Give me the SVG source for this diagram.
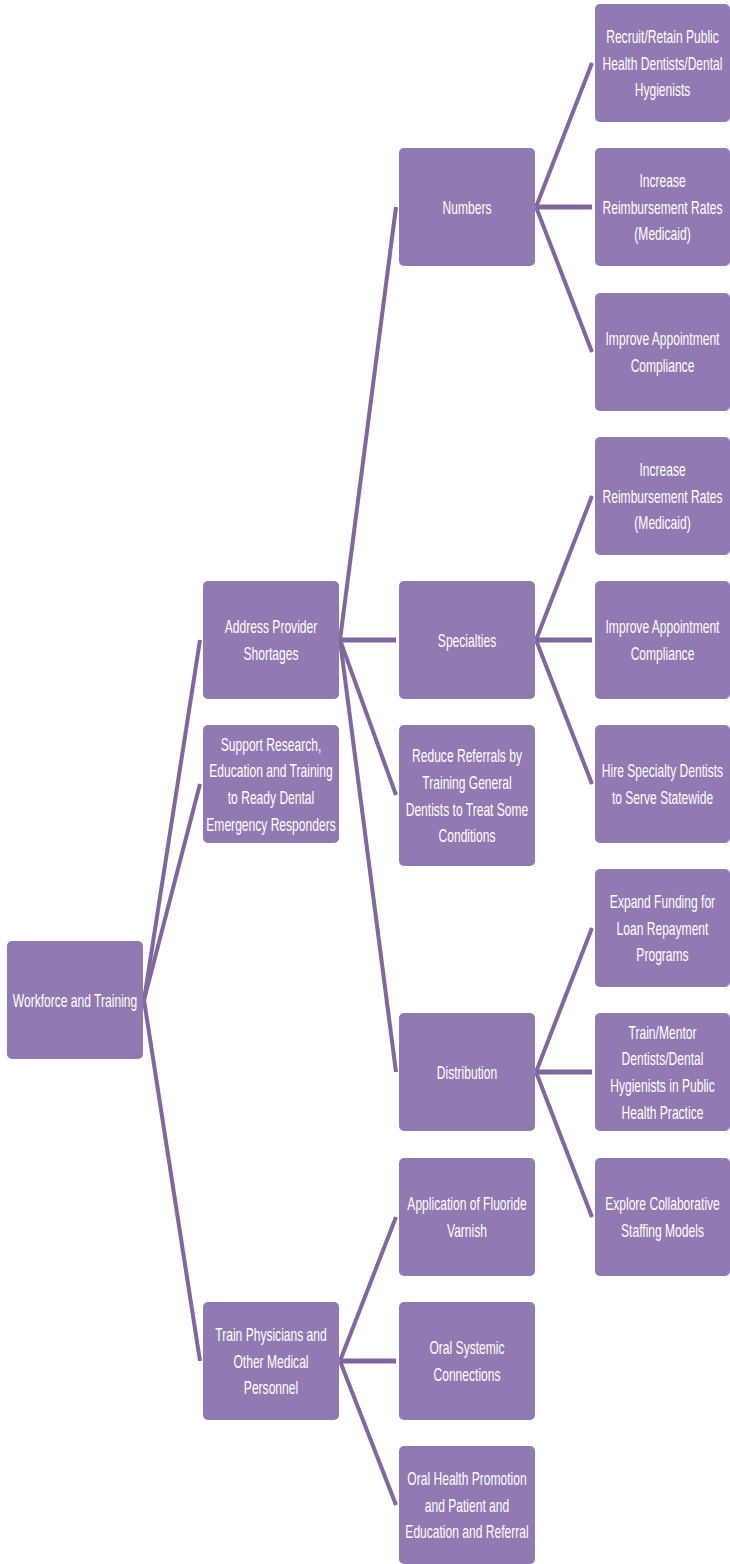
<svg xmlns="http://www.w3.org/2000/svg" width="730" height="1564" viewBox="0 0 730 1564">
  <style>
    .box { fill: #907ab1; }
    .lbl { font-family: "Liberation Sans", Arial, sans-serif; font-size: 19px; fill: #ffffff; text-anchor: middle; }
    .link { stroke: #7f679f; stroke-width: 4; fill: none; stroke-linecap: butt; }
    .flat { stroke-width: 5; }
  </style>
  <rect width="730" height="1564" fill="#ffffff"/>

  <!-- connectors -->
  <g id="connectors" class="link">
    <line x1="144" y1="1000" x2="200" y2="640"/>
    <line x1="144" y1="1000" x2="200" y2="784"/>
    <line x1="144" y1="1000" x2="200" y2="1361"/>

    <line x1="340" y1="640" x2="396" y2="207"/>
    <line class="flat" x1="340" y1="640" x2="396" y2="640"/>
    <line x1="340" y1="640" x2="396" y2="795"/>
    <line x1="340" y1="640" x2="396" y2="1072"/>

    <line x1="536" y1="207" x2="592" y2="63"/>
    <line class="flat" x1="536" y1="207" x2="592" y2="207"/>
    <line x1="536" y1="207" x2="592" y2="352"/>

    <line x1="536" y1="640" x2="592" y2="496"/>
    <line class="flat" x1="536" y1="640" x2="592" y2="640"/>
    <line x1="536" y1="640" x2="592" y2="784"/>

    <line x1="536" y1="1072" x2="592" y2="928"/>
    <line class="flat" x1="536" y1="1072" x2="592" y2="1072"/>
    <line x1="536" y1="1072" x2="592" y2="1217"/>

    <line x1="340" y1="1361" x2="396" y2="1217"/>
    <line class="flat" x1="340" y1="1361" x2="396" y2="1361"/>
    <line x1="340" y1="1361" x2="396" y2="1505"/>
  </g>

  <!-- root -->
  <g id="workforce-training">
    <rect class="box" x="7" y="941" width="136" height="118" rx="5"/>
    <g transform="translate(75,0) scale(0.635,1)">
      <text class="lbl" x="0" y="1006.8">Workforce and Training</text>
    </g>
  </g>

  <!-- level 1 -->
  <g id="address-provider-shortages">
    <rect class="box" x="203" y="581" width="136" height="118" rx="5"/>
    <g transform="translate(271,0) scale(0.635,1)">
      <text class="lbl" x="0" y="633.5">Address Provider</text>
      <text class="lbl" x="0" y="660.2">Shortages</text>
    </g>
  </g>
  <g id="support-research">
    <rect class="box" x="203" y="725" width="136" height="118" rx="5"/>
    <g transform="translate(271,0) scale(0.635,1)">
      <text class="lbl" x="0" y="750.8">Support Research,</text>
      <text class="lbl" x="0" y="777.5">Education and Training</text>
      <text class="lbl" x="0" y="804.2">to Ready Dental</text>
      <text class="lbl" x="0" y="830.9">Emergency Responders</text>
    </g>
  </g>
  <g id="train-physicians">
    <rect class="box" x="203" y="1302" width="136" height="118" rx="5"/>
    <g transform="translate(271,0) scale(0.635,1)">
      <text class="lbl" x="0" y="1341.1">Train Physicians and</text>
      <text class="lbl" x="0" y="1367.8">Other Medical</text>
      <text class="lbl" x="0" y="1394.5">Personnel</text>
    </g>
  </g>

  <!-- level 2 -->
  <g id="numbers">
    <rect class="box" x="399" y="148" width="136" height="118" rx="5"/>
    <g transform="translate(467,0) scale(0.635,1)">
      <text class="lbl" x="0" y="213.8">Numbers</text>
    </g>
  </g>
  <g id="specialties">
    <rect class="box" x="399" y="581" width="136" height="118" rx="5"/>
    <g transform="translate(467,0) scale(0.635,1)">
      <text class="lbl" x="0" y="646.8">Specialties</text>
    </g>
  </g>
  <g id="reduce-referrals">
    <rect class="box" x="399" y="725" width="136" height="141" rx="5"/>
    <g transform="translate(467,0) scale(0.635,1)">
      <text class="lbl" x="0" y="762.3">Reduce Referrals by</text>
      <text class="lbl" x="0" y="789">Training General</text>
      <text class="lbl" x="0" y="815.7">Dentists to Treat Some</text>
      <text class="lbl" x="0" y="842.4">Conditions</text>
    </g>
  </g>
  <g id="distribution">
    <rect class="box" x="399" y="1013" width="136" height="118" rx="5"/>
    <g transform="translate(467,0) scale(0.635,1)">
      <text class="lbl" x="0" y="1078.8">Distribution</text>
    </g>
  </g>
  <g id="fluoride-varnish">
    <rect class="box" x="399" y="1158" width="136" height="118" rx="5"/>
    <g transform="translate(467,0) scale(0.635,1)">
      <text class="lbl" x="0" y="1210.5">Application of Fluoride</text>
      <text class="lbl" x="0" y="1237.2">Varnish</text>
    </g>
  </g>
  <g id="oral-systemic">
    <rect class="box" x="399" y="1302" width="136" height="118" rx="5"/>
    <g transform="translate(467,0) scale(0.635,1)">
      <text class="lbl" x="0" y="1354.5">Oral Systemic</text>
      <text class="lbl" x="0" y="1381.2">Connections</text>
    </g>
  </g>
  <g id="oral-health-promotion">
    <rect class="box" x="399" y="1446" width="136" height="118" rx="5"/>
    <g transform="translate(467,0) scale(0.635,1)">
      <text class="lbl" x="0" y="1485.1">Oral Health Promotion</text>
      <text class="lbl" x="0" y="1511.8">and Patient and</text>
      <text class="lbl" x="0" y="1538.5">Education and Referral</text>
    </g>
  </g>

  <!-- level 3 -->
  <g id="recruit-retain">
    <rect class="box" x="595" y="4" width="135" height="118" rx="5"/>
    <g transform="translate(662.5,0) scale(0.635,1)">
      <text class="lbl" x="0" y="43.1">Recruit/Retain Public</text>
      <text class="lbl" x="0" y="69.8">Health Dentists/Dental</text>
      <text class="lbl" x="0" y="96.5">Hygienists</text>
    </g>
  </g>
  <g id="increase-rates-1">
    <rect class="box" x="595" y="148" width="135" height="118" rx="5"/>
    <g transform="translate(662.5,0) scale(0.635,1)">
      <text class="lbl" x="0" y="187.1">Increase</text>
      <text class="lbl" x="0" y="213.8">Reimbursement Rates</text>
      <text class="lbl" x="0" y="240.5">(Medicaid)</text>
    </g>
  </g>
  <g id="improve-compliance-1">
    <rect class="box" x="595" y="293" width="135" height="118" rx="5"/>
    <g transform="translate(662.5,0) scale(0.635,1)">
      <text class="lbl" x="0" y="345.5">Improve Appointment</text>
      <text class="lbl" x="0" y="372.2">Compliance</text>
    </g>
  </g>
  <g id="increase-rates-2">
    <rect class="box" x="595" y="437" width="135" height="118" rx="5"/>
    <g transform="translate(662.5,0) scale(0.635,1)">
      <text class="lbl" x="0" y="476.1">Increase</text>
      <text class="lbl" x="0" y="502.8">Reimbursement Rates</text>
      <text class="lbl" x="0" y="529.5">(Medicaid)</text>
    </g>
  </g>
  <g id="improve-compliance-2">
    <rect class="box" x="595" y="581" width="135" height="118" rx="5"/>
    <g transform="translate(662.5,0) scale(0.635,1)">
      <text class="lbl" x="0" y="633.5">Improve Appointment</text>
      <text class="lbl" x="0" y="660.2">Compliance</text>
    </g>
  </g>
  <g id="hire-specialty">
    <rect class="box" x="595" y="725" width="135" height="118" rx="5"/>
    <g transform="translate(662.5,0) scale(0.635,1)">
      <text class="lbl" x="0" y="777.5">Hire Specialty Dentists</text>
      <text class="lbl" x="0" y="804.2">to Serve Statewide</text>
    </g>
  </g>
  <g id="expand-funding">
    <rect class="box" x="595" y="869" width="135" height="118" rx="5"/>
    <g transform="translate(662.5,0) scale(0.635,1)">
      <text class="lbl" x="0" y="908.1">Expand Funding for</text>
      <text class="lbl" x="0" y="934.8">Loan Repayment</text>
      <text class="lbl" x="0" y="961.5">Programs</text>
    </g>
  </g>
  <g id="train-mentor">
    <rect class="box" x="595" y="1013" width="135" height="118" rx="5"/>
    <g transform="translate(662.5,0) scale(0.635,1)">
      <text class="lbl" x="0" y="1038.8">Train/Mentor</text>
      <text class="lbl" x="0" y="1065.5">Dentists/Dental</text>
      <text class="lbl" x="0" y="1092.2">Hygienists in Public</text>
      <text class="lbl" x="0" y="1118.9">Health Practice</text>
    </g>
  </g>
  <g id="collaborative-staffing">
    <rect class="box" x="595" y="1158" width="135" height="118" rx="5"/>
    <g transform="translate(662.5,0) scale(0.635,1)">
      <text class="lbl" x="0" y="1210.5">Explore Collaborative</text>
      <text class="lbl" x="0" y="1237.2">Staffing Models</text>
    </g>
  </g>
</svg>
